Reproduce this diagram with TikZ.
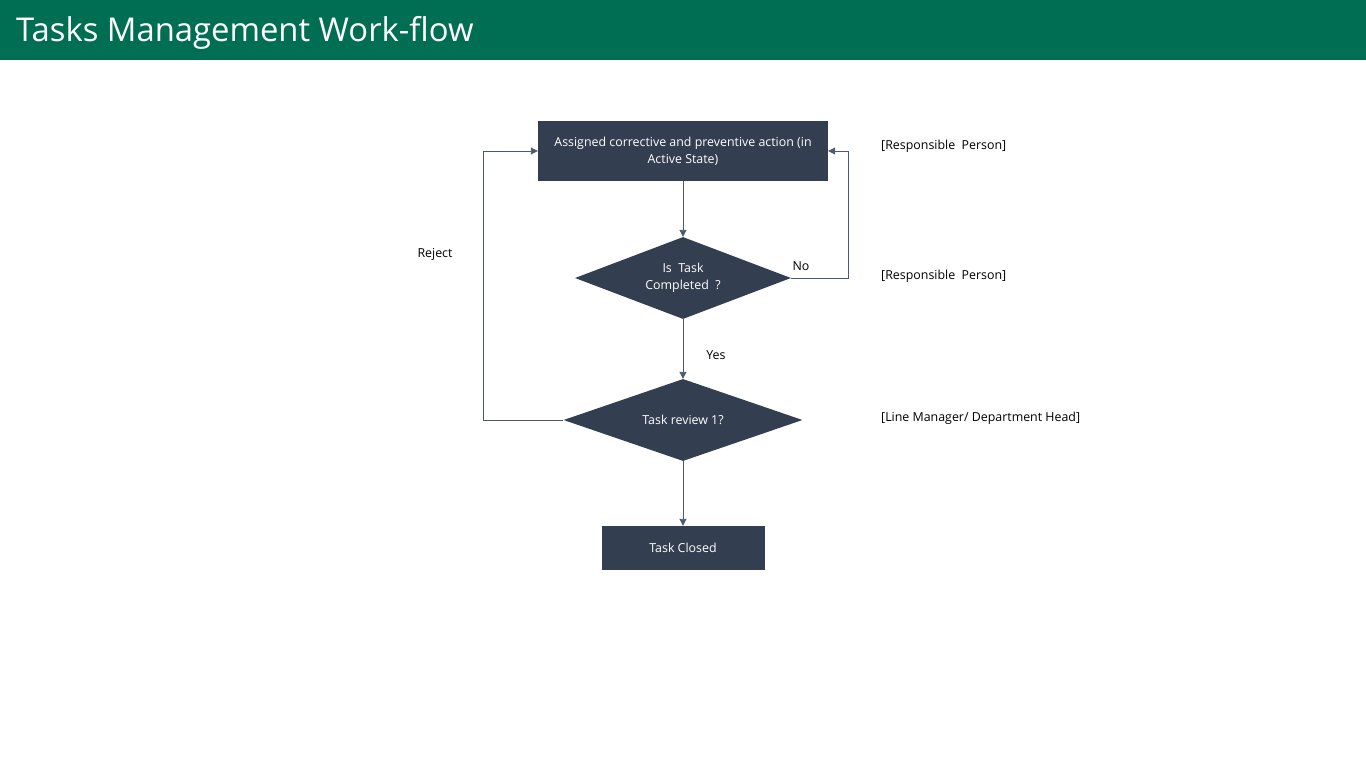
\documentclass[tikz,border=0pt]{standalone}
\usepackage{fontspec}
\setmainfont{Open Sans}
\usetikzlibrary{shapes.geometric,arrows.meta}
\definecolor{hdr}{RGB}{0,110,82}
\definecolor{boxc}{RGB}{51,63,80}
\definecolor{linec}{RGB}{76,90,112}
\tikzset{
  box/.style={fill=boxc,draw=none,text=white,font=\fontsize{12.4}{17}\selectfont,align=center,inner sep=0pt},
  dia/.style={diamond,fill=boxc,draw=none,text=white,font=\fontsize{12.4}{17}\selectfont,align=center,inner sep=0pt,aspect=2.6},
  conn/.style={draw=linec,line width=0.9pt,-{Triangle[width=7pt,length=7pt]}},
  lbl/.style={font=\fontsize{12.4}{14}\selectfont,text=black,inner sep=0pt},
}
\begin{document}
\begin{tikzpicture}[x=1pt,y=-1pt]
\useasboundingbox (0,0) rectangle (1366,768);
\fill[white] (0,0) rectangle (1366,768);
\fill[hdr] (0,0) rectangle (1366,60);
\node[anchor=west,text=white,font=\fontsize{32.8}{38}\selectfont,inner sep=0pt] (title) at (16,33) {Tasks Management Work-flow};

\node[box,minimum width=290pt,minimum height=60pt] (assign) at (683,151) {Assigned corrective and preventive action (in\\Active State)};
\node[dia,minimum width=216pt,minimum height=82pt] (done) at (683,278) {Is\ \ Task\\Completed\ \ ?};
\node[dia,minimum width=239pt,minimum height=82pt] (review) at (683,420) {Task review 1?};
\node[box,minimum width=163pt,minimum height=44pt] (closed) at (683,548) {Task Closed};

\coordinate (rl) at (483,420);
\coordinate (nr) at (848,278);

\draw[conn] (assign.south) -- (done.north);
\draw[conn] (done.south) -- (review.north);
\draw[conn] (review.south) -- (closed.north);
\draw[conn] (review.west) -- (rl) |- (assign.west);
\draw[conn] (done.east) -- (nr) |- (assign.east);

\node[lbl] (reject) at (435,254) {Reject};
\node[lbl] (no) at (801,266) {No};
\node[lbl] (yes) at (716,355) {Yes};
\node[lbl,anchor=west] (r1) at (881,146) {[Responsible\ \ Person]};
\node[lbl,anchor=west] (r2) at (881,276) {[Responsible\ \ Person]};
\node[lbl,anchor=west] (r3) at (881,418) {[Line Manager/ Department Head]};
\end{tikzpicture}
\end{document}
